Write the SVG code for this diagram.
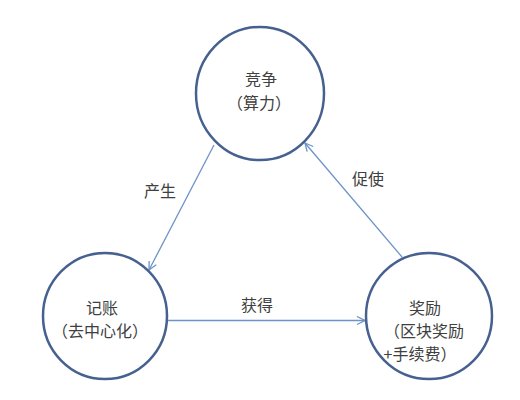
<svg xmlns="http://www.w3.org/2000/svg" width="520" height="400" viewBox="0 0 520 400">
<style>
.node{fill:#ffffff;stroke:#46618f;stroke-width:2.5}
.t{font-family:"Microsoft YaHei","Noto Sans CJK SC",sans-serif;font-size:16px;fill:#404040;text-anchor:middle;dominant-baseline:central}
.c{stroke:#6d93c8;stroke-width:1.3;fill:none;marker-end:url(#ah)}
</style>
<defs>
<marker id="ah" viewBox="0 0 10 10" refX="9" refY="5" markerWidth="10" markerHeight="10" markerUnits="userSpaceOnUse" orient="auto">
<path d="M1,1 L9,5 L1,9" fill="none" stroke="#6d93c8" stroke-width="1.3"/>
</marker>
</defs>
<rect width="520" height="400" fill="#ffffff"/>
<g id="connectors">
<line class="c" x1="214" y1="145" x2="149" y2="270"/>
<line class="c" x1="402" y1="257" x2="305" y2="143"/>
<line class="c" x1="167" y1="320.5" x2="365" y2="320.5"/>
<text class="t" x="160" y="190">产生</text>
<text class="t" x="368" y="178">促使</text>
<text class="t" x="257" y="304">获得</text>
</g>
<g id="node-compete">
<ellipse class="node" cx="260" cy="93.5" rx="64" ry="66.5"/>
<text class="t" x="261" y="78">竞争</text>
<text class="t" x="259" y="102">（算力）</text>
</g>
<g id="node-bookkeeping">
<ellipse class="node" cx="105" cy="316" rx="62" ry="63"/>
<text class="t" x="102" y="307">记账</text>
<text class="t" x="100" y="330">（去中心化）</text>
</g>
<g id="node-reward">
<ellipse class="node" cx="429" cy="316" rx="63" ry="63"/>
<text class="t" x="425" y="307">奖励</text>
<text class="t" x="424" y="330">（区块奖励</text>
<text class="t" x="420" y="353">+手续费）</text>
</g>
</svg>
